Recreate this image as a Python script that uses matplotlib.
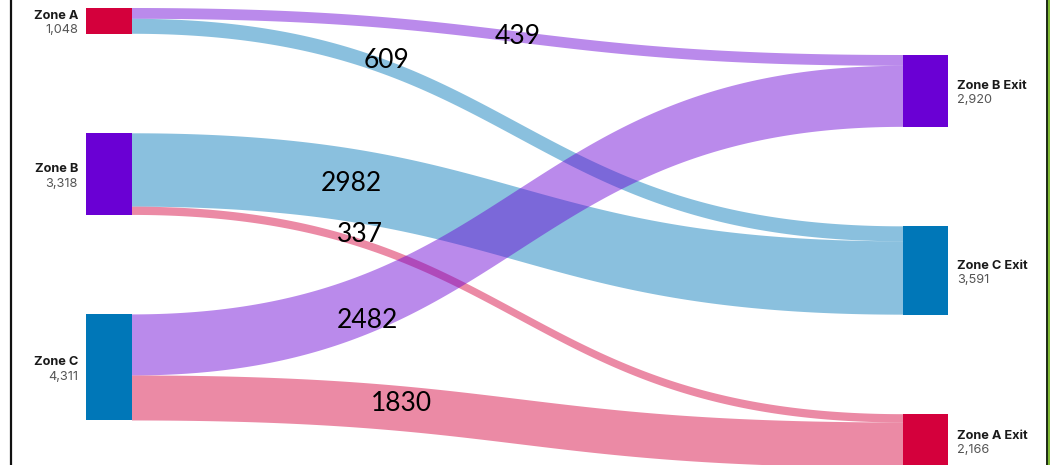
import numpy as np
import matplotlib
matplotlib.use("Agg")
import matplotlib.pyplot as plt
from matplotlib.patches import Polygon, Rectangle
from matplotlib.lines import Line2D

# ---------------- data ----------------
source_nodes = ["Zone A", "Zone B", "Zone C"]
source_values = [1048, 3318, 4311]
target_nodes = ["Zone B Exit", "Zone C Exit", "Zone A Exit"]
target_values = [2920, 3591, 2166]

link_sources = ["Zone A", "Zone A", "Zone B", "Zone B", "Zone C", "Zone C"]
link_targets = ["Zone B Exit", "Zone C Exit", "Zone C Exit", "Zone A Exit", "Zone B Exit", "Zone A Exit"]
link_values = [439, 609, 2982, 337, 2482, 1830]

# ---------------- styles ----------------
node_colors = {
    "Zone A": "#d4003c", "Zone B": "#6a00d4", "Zone C": "#0077b8",
    "Zone A Exit": "#d4003c", "Zone B Exit": "#6a00d4", "Zone C Exit": "#0077b8",
}
link_alpha = 0.46
# label position along each link (fraction of horizontal span) and vertical nudge
label_frac = [0.50, 0.33, 0.285, 0.295, 0.305, 0.35]
label_dy = [0, -7, -2, -8, 17, -5]

W, H = 1050, 465
scale = 0.0246      # px per unit
gap = 99.5
left_x0, left_x1 = 86, 132
right_x0, right_x1 = 903, 948
left_top, right_top = 8, 55

fig = plt.figure(figsize=(W / 100, H / 100), dpi=100)
ax = fig.add_axes([0, 0, 1, 1])
ax.set_xlim(0, W)
ax.set_ylim(H, 0)
ax.axis("off")

# node positions
pos = {}
y = left_top
for n, v in zip(source_nodes, source_values):
    pos[n] = (left_x0, left_x1, y, y + v * scale)
    y += v * scale + gap
y = right_top
for n, v in zip(target_nodes, target_values):
    pos[n] = (right_x0, right_x1, y, y + v * scale)
    y += v * scale + gap

# link offsets
out_off = {n: pos[n][2] for n in source_nodes}
in_off = {n: pos[n][2] for n in target_nodes}

t = np.linspace(0, 1, 200)
for i, (s, tg, v) in enumerate(zip(link_sources, link_targets, link_values)):
    w = v * scale
    ys0 = out_off[s]; out_off[s] += w
    yt0 = in_off[tg]; in_off[tg] += w
    x0 = pos[s][1]; x1 = pos[tg][0]
    xm = (x0 + x1) / 2
    xs = (1 - t) ** 3 * x0 + 3 * (1 - t) ** 2 * t * xm + 3 * (1 - t) * t ** 2 * xm + t ** 3 * x1
    f = 3 * t ** 2 - 2 * t ** 3
    top = ys0 + (yt0 - ys0) * f
    bot = top + w
    verts = np.concatenate([np.column_stack([xs, top]), np.column_stack([xs[::-1], bot[::-1]])])
    ax.add_patch(Polygon(verts, closed=True, facecolor=node_colors[tg], alpha=link_alpha,
                         edgecolor="none", zorder=1))
    lx = x0 + (x1 - x0) * label_frac[i]
    ly = np.interp(lx, xs, top + w / 2) + label_dy[i]
    ax.text(lx, ly, f"{v}", fontsize=19, family=["Lato", "DejaVu Sans"], color="#000000",
            ha="center", va="center", zorder=5)

# nodes
for n in source_nodes + target_nodes:
    xa, xb, ya, yb = pos[n]
    ax.add_patch(Rectangle((xa, ya), xb - xa, yb - ya, facecolor=node_colors[n],
                           edgecolor="none", zorder=3))

name_kw = dict(fontsize=9.2, fontweight="bold", family=["Inter", "DejaVu Sans"], color="#1a1a1a",
               va="center", zorder=5)
val_kw = dict(fontsize=9.2, family=["Inter", "DejaVu Sans"], color="#555555", va="center", zorder=5)
for n, v in zip(source_nodes, source_values):
    xa, xb, ya, yb = pos[n]
    yc = (ya + yb) / 2
    ax.text(xa - 8, yc - 5, n, ha="right", **name_kw)
    ax.text(xa - 8, yc + 9.5, f"{v:,}", ha="right", **val_kw)
for n, v in zip(target_nodes, target_values):
    xa, xb, ya, yb = pos[n]
    yc = (ya + yb) / 2
    ax.text(xb + 9, yc - 5, n, ha="left", **name_kw)
    ax.text(xb + 9, yc + 9.5, f"{v:,}", ha="left", **val_kw)

# frame lines
fig.add_artist(Line2D([10.5 / W, 10.5 / W], [0, 1], color="#111111", lw=1.6))
fig.add_artist(Line2D([1046.5 / W, 1046.5 / W], [0, 1], color="#1a2a10", lw=1.4))
fig.add_artist(Line2D([1048.5 / W, 1048.5 / W], [0, 1], color="#7cb82f", lw=1.4))

fig.savefig("out.png", dpi=100, facecolor="white")
